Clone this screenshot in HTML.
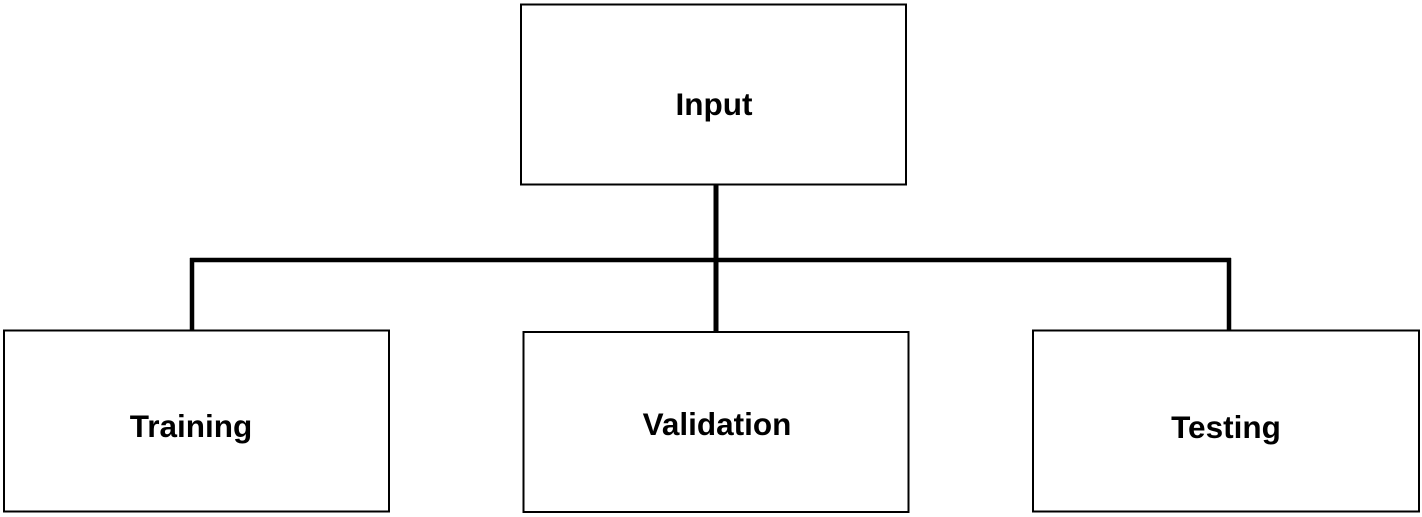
<!DOCTYPE html>
<html><head><style>
html,body{margin:0;padding:0;background:#fff;}
svg{display:block;}
text{font-family:"Liberation Sans",Arial,sans-serif;font-weight:bold;font-size:31.5px;fill:#000;}
</style></head><body>
<svg width="1422" height="517" viewBox="0 0 1422 517" xmlns="http://www.w3.org/2000/svg">
<rect x="521" y="4.5" width="385" height="180" fill="#fff" stroke="#000" stroke-width="2"/>
<rect x="4" y="330.5" width="385" height="181" fill="#fff" stroke="#000" stroke-width="2"/>
<rect x="523.5" y="332" width="385" height="180" fill="#fff" stroke="#000" stroke-width="2"/>
<rect x="1033" y="330.5" width="386" height="181" fill="#fff" stroke="#000" stroke-width="2"/>
<line x1="716" y1="184" x2="716" y2="331" stroke="#000" stroke-width="5"/>
<line x1="190" y1="260" x2="1231" y2="260" stroke="#000" stroke-width="4.5"/>
<line x1="192" y1="258" x2="192" y2="331" stroke="#000" stroke-width="4.5"/>
<line x1="1229" y1="258" x2="1229" y2="331" stroke="#000" stroke-width="4.5"/>
<text x="714" y="115" text-anchor="middle">Input</text>
<text x="191" y="437" text-anchor="middle">Training</text>
<text x="717" y="435" text-anchor="middle">Validation</text>
<text x="1226" y="438" text-anchor="middle">Testing</text>
</svg>
</body></html>
